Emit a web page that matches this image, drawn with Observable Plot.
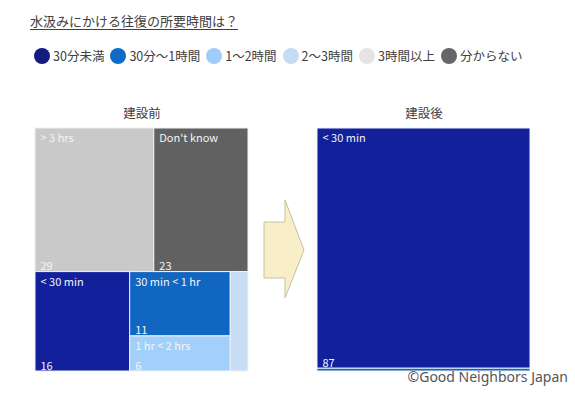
<!DOCTYPE html>
<html>
<head>
<meta charset="utf-8">
<script src="https://cdn.jsdelivr.net/npm/d3@7"></script>
<script src="https://cdn.jsdelivr.net/npm/@observablehq/plot@0.6"></script>
<style>
  body { margin: 0; background: #fff; font-family: "Noto Sans CJK JP", "Noto Sans", sans-serif; }
  #wrap { position: relative; width: 575px; height: 393px; overflow: hidden; }
  #title { position: absolute; left: 30px; top: 11px; font-size: 13px; color: #404040; text-decoration: underline; text-underline-offset: 3px; white-space: nowrap; }
  #legend { position: absolute; left: 34px; top: 46px; display: flex; align-items: center; font-size: 12.5px; color: #404040; white-space: nowrap; }
  .item { display: flex; align-items: center; margin-right: 6px; }
  .sw { width: 16px; height: 16px; border-radius: 50%; margin-right: 3px; }
  #chart { position: absolute; left: 0; top: 90px; }
  #arrow { position: absolute; left: 262px; top: 198px; }
  #caption { position: absolute; right: 7px; top: 367px; font-family: "Noto Sans", sans-serif; font-size: 14px; color: #555; }
</style>
</head>
<body>
<div id="wrap">
  <div id="title">水汲みにかける往復の所要時間は？</div>
  <div id="legend"></div>
  <div id="chart"></div>
  <svg id="arrow" width="46" height="104"><polygon points="2,24 23,24 23,2 42,52 23,100 23,80 2,80" fill="#f8efc9" stroke="#c8bf9f" stroke-width="1"/></svg>
  <div id="caption">©Good Neighbors Japan</div>
</div>
<script>
// Data
const periods = ["建設前", "建設後"];
const categoriesJa = ["30分未満", "30分～1時間", "1～2時間", "2～3時間", "3時間以上", "分からない"];
const categoriesEn = ["< 30 min", "30 min < 1 hr", "1 hr < 2 hrs", "2 ~ 3 hrs", "> 3 hrs", "Don't know"];
const valuesBefore = [16, 11, 6, 3, 29, 23];
const valuesAfter  = [87, 1, 0, 0, 0, 0];
const fillColors   = ["#12209b", "#1166c1", "#a3d0fb", "#c6ddf4", "#c9c9c9", "#616161"];
const legendColors = ["#111c7e", "#0f6ac4", "#a0cdfa", "#c5dcf3", "#e4e4e4", "#666666"];

// Legend
const legend = document.getElementById("legend");
categoriesJa.forEach((c, i) => {
  const it = document.createElement("div");
  it.className = "item";
  it.innerHTML = `<span class="sw" style="background:${legendColors[i]}"></span><span>${c}</span>`;
  legend.appendChild(it);
});

// Treemap layout per period
const W = 214, H = 242;
function layout(period, values) {
  const root = d3.hierarchy({children: categoriesEn.map((c, i) => ({cat: c, value: values[i]})).filter(d => d.value > 0)})
    .sum(d => d.value || 0)
    .sort((a, b) => b.value - a.value);
  d3.treemap().tile(d3.treemapSquarify).size([W, H]).round(false)(root);
  return root.leaves().map(l => ({period, cat: l.data.cat, value: l.data.value, x0: l.x0, x1: l.x1, y0: l.y0, y1: l.y1}));
}
const nodes = [...layout(periods[0], valuesBefore), ...layout(periods[1], valuesAfter)];
const labeled = nodes.filter(d => (d.x1 - d.x0) > 30 && (d.y1 - d.y0) > 30);

const chart = Plot.plot({
  width: 575,
  height: 282,
  marginLeft: 34,
  marginRight: 44,
  marginTop: 38,
  marginBottom: 1,
  style: {fontFamily: "'Noto Sans CJK JP', 'Noto Sans', sans-serif", background: "transparent"},
  fx: {domain: periods, paddingInner: 0.2438, paddingOuter: 0, label: null},
  x: {domain: [0, W], axis: null},
  y: {domain: [0, H], reverse: true, axis: null},
  color: {domain: categoriesEn, range: fillColors},
  marks: [
    Plot.axisFx({anchor: "top", tickSize: 0, tickPadding: 11, fontSize: 12.5, label: null, color: "#404040"}),
    Plot.rect(nodes, {fx: "period", x1: "x0", x2: "x1", y1: "y0", y2: "y1", fill: "cat", stroke: "#eef2fa", strokeWidth: 1}),
    Plot.text(labeled, {fx: "period", x: "x0", y: "y0", text: "cat", dx: 5, dy: 6, textAnchor: "start", lineAnchor: "top", fill: "#f4f4f4", fontSize: 11}),
    Plot.text(labeled, {fx: "period", x: "x0", y: "y1", text: d => String(d.value), dx: 5, dy: -2, textAnchor: "start", lineAnchor: "bottom", fill: "#f4f4f4", fontSize: 11})
  ]
});
document.getElementById("chart").appendChild(chart);
</script>
</body>
</html>
